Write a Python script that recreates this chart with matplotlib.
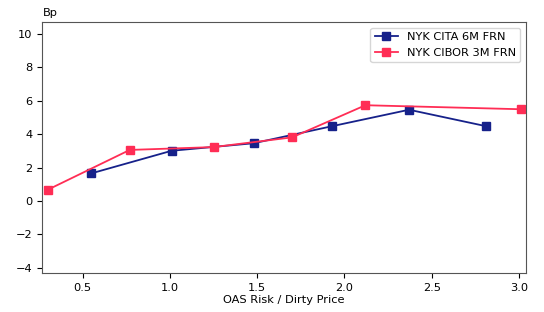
import matplotlib
matplotlib.use("Agg")
import matplotlib.pyplot as plt

# NYK CITA 6M FRN
cita_x = [0.55, 1.01, 1.48, 1.93, 2.37, 2.81]
cita_y = [1.65, 3.0, 3.45, 4.47, 5.45, 4.47]

# NYK CIBOR 3M FRN
cibor_x = [0.30, 0.77, 1.25, 1.70, 2.12, 3.01]
cibor_y = [0.67, 3.05, 3.22, 3.8, 5.72, 5.48]

plt.rcParams["font.size"] = 8.2

fig, ax = plt.subplots(figsize=(5.44, 3.12), dpi=100)
ax.plot(cita_x, cita_y, color="#16218a", marker="s", ms=5.8, lw=1.3,
        label="NYK CITA 6M FRN")
ax.plot(cibor_x, cibor_y, color="#ff2d55", marker="s", ms=5.8, lw=1.3,
        label="NYK CIBOR 3M FRN")

ax.set_xlim(0.27, 3.04)
ax.set_ylim(-4.3, 10.7)
ax.set_yticks([-4, -2, 0, 2, 4, 6, 8, 10])
ax.set_xticks([0.5, 1.0, 1.5, 2.0, 2.5, 3.0])
ax.set_xlabel("OAS Risk / Dirty Price", labelpad=1.5)
ax.text(0.0, 1.015, "Bp", transform=ax.transAxes, ha="left", va="bottom")
ax.legend(loc="upper right")
for s in ax.spines.values():
    s.set_color("#555555")

fig.subplots_adjust(left=0.078, right=0.967, top=0.93, bottom=0.125)
fig.savefig("out.png", dpi=100)
